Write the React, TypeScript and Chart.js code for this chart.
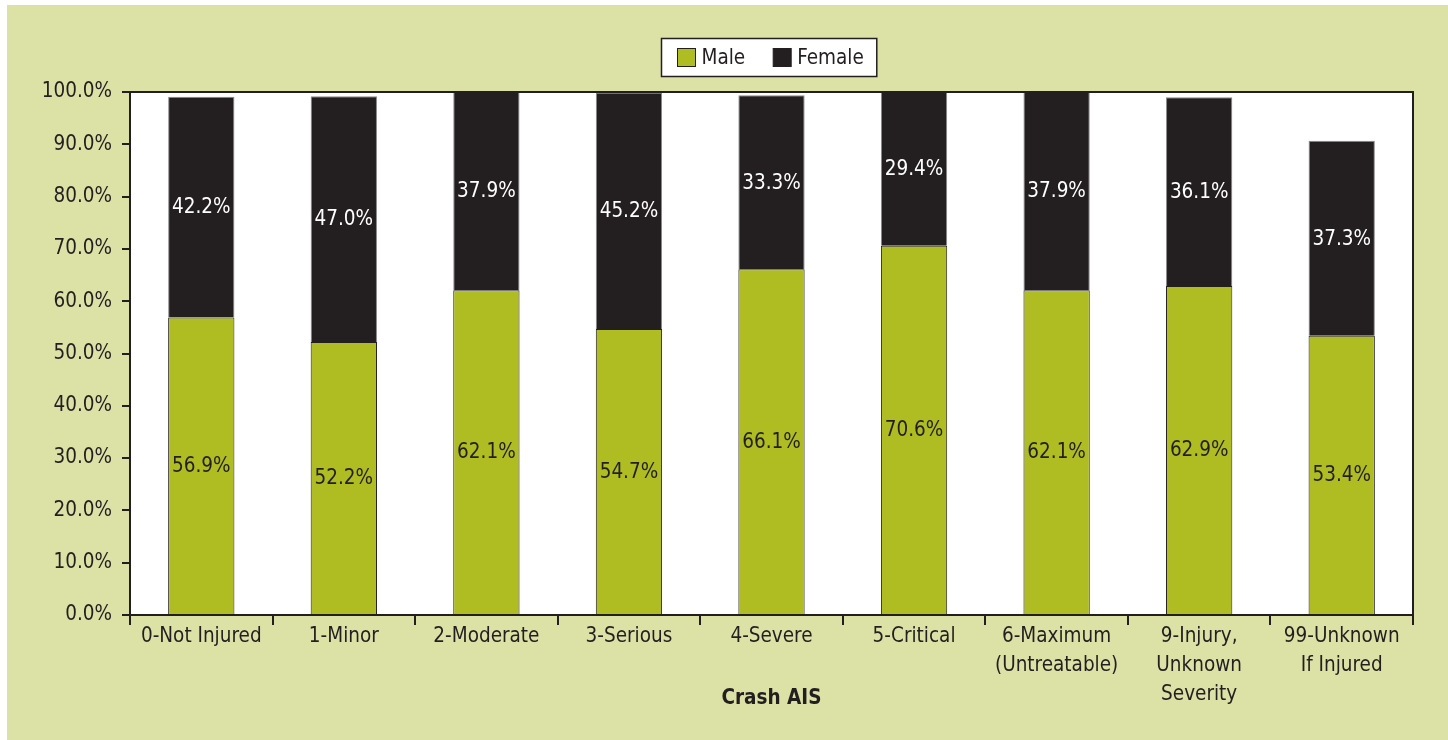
import React, { useEffect, useRef } from "react";
import { Chart, registerables } from "chart.js";

Chart.register(...registerables);

const categories: (string | string[])[] = [
  "0-Not Injured",
  "1-Minor",
  "2-Moderate",
  "3-Serious",
  "4-Severe",
  "5-Critical",
  ["6-Maximum", "(Untreatable)"],
  ["9-Injury,", "Unknown", "Severity"],
  ["99-Unknown", "If Injured"],
];
const maleValues = [56.9, 52.2, 62.1, 54.7, 66.1, 70.6, 62.1, 62.9, 53.4];
const femaleValues = [42.2, 47.0, 37.9, 45.2, 33.3, 29.4, 37.9, 36.1, 37.3];
const yTicks = [0, 10, 20, 30, 40, 50, 60, 70, 80, 90, 100];

const PANEL = "#dce1a6";
const MALE = "#afbd22";
const FEMALE = "#231f20";
const INK = "#231f20";
const FONT = "'DejaVu Sans Condensed', 'Liberation Sans Narrow', Arial, sans-serif";
const FS = 20.5;

const bgPlugin = {
  id: "bgPlugin",
  beforeDraw(chart: any) {
    const { ctx, chartArea } = chart;
    ctx.save();
    ctx.fillStyle = PANEL;
    ctx.fillRect(0, 0, chart.width, chart.height);
    ctx.fillStyle = "#ffffff";
    ctx.fillRect(chartArea.left, chartArea.top, chartArea.right - chartArea.left, chartArea.bottom - chartArea.top);
    ctx.restore();
  },
  afterDraw(chart: any) {
    const { ctx, chartArea } = chart;
    ctx.save();
    ctx.strokeStyle = INK;
    ctx.lineWidth = 2;
    ctx.beginPath();
    ctx.moveTo(chartArea.left, chartArea.top);
    ctx.lineTo(chartArea.right, chartArea.top);
    ctx.lineTo(chartArea.right, chartArea.bottom);
    ctx.stroke();

    // legend
    ctx.font = `${FS}px ${FONT}`;
    const ds = chart.data.datasets;
    const widths = ds.map((d: any) => ctx.measureText(d.label).width);
    const padL = 16, sw = 18, gap = 6, itemGap = 28, padR = 13;
    const total = padL + sw + gap + widths[0] + itemGap + sw + gap + widths[1] + padR;
    const cx = (chartArea.left + chartArea.right) / 2 - 3;
    const left = Math.round(cx - total / 2) + 0.5;
    const top = 33.5;
    const h = 38;
    ctx.fillStyle = "#ffffff";
    ctx.fillRect(left, top, total, h);
    ctx.lineWidth = 1.5;
    ctx.strokeStyle = INK;
    ctx.strokeRect(left, top, total, h);
    let x = left + padL;
    const cy = top + h / 2;
    ds.forEach((d: any, i: number) => {
      ctx.fillStyle = d.backgroundColor;
      ctx.fillRect(x, cy - sw / 2, sw, sw);
      ctx.lineWidth = 1;
      ctx.strokeStyle = INK;
      ctx.strokeRect(x, cy - sw / 2, sw, sw);
      x += sw + gap;
      ctx.fillStyle = INK;
      ctx.textAlign = "left";
      ctx.textBaseline = "middle";
      ctx.fillText(d.label, x, cy + 1);
      x += widths[i] + itemGap;
    });
    ctx.restore();
  },
};

const labelPlugin = {
  id: "labelPlugin",
  afterDatasetsDraw(chart: any) {
    const { ctx } = chart;
    ctx.save();
    ctx.font = `${FS}px ${FONT}`;
    ctx.textAlign = "center";
    ctx.textBaseline = "middle";
    chart.data.datasets.forEach((d: any, di: number) => {
      const meta = chart.getDatasetMeta(di);
      meta.data.forEach((el: any, i: number) => {
        const v = d.data[i];
        ctx.fillStyle = di === 0 ? INK : "#ffffff";
        ctx.fillText(v.toFixed(1) + "%", el.x, (el.y + el.base) / 2 + 1);
      });
    });
    ctx.restore();
  },
};

export default function App() {
  const ref = useRef<HTMLCanvasElement | null>(null);
  useEffect(() => {
    document.body.style.margin = "0";
    const canvas = ref.current!;
    const chart = new Chart(canvas, {
      type: "bar",
      data: {
        labels: categories,
        datasets: [
          {
            label: "Male",
            data: maleValues,
            backgroundColor: MALE,
            borderColor: INK,
            borderWidth: 1,
            barPercentage: 0.465,
            categoryPercentage: 1,
          },
          {
            label: "Female",
            data: femaleValues,
            backgroundColor: FEMALE,
            borderColor: "#8a8a8a",
            borderWidth: 1,
            barPercentage: 0.465,
            categoryPercentage: 1,
          },
        ],
      },
      options: {
        responsive: false,
        animation: false,
        devicePixelRatio: 1,
        layout: { padding: { top: 87, right: 35, bottom: 0, left: 0 } },
        plugins: {
          legend: { display: false },
          tooltip: { enabled: false },
        },
        scales: {
          x: {
            stacked: true,
            grid: {
              display: true,
              offset: true,
              drawOnChartArea: false,
              drawTicks: true,
              tickLength: 10,
              color: INK,
              lineWidth: 2,
            },
            border: { display: true, color: INK, width: 2 },
            ticks: {
              color: INK,
              font: { family: FONT, size: FS, lineHeight: 29 / FS },
              padding: -3,
              maxRotation: 0,
              autoSkip: false,
            },
            title: {
              display: true,
              text: "Crash AIS",
              color: INK,
              font: { family: FONT, size: FS, weight: "bold", lineHeight: 1.2 },
              padding: { top: 0, bottom: 29 },
            },
            afterFit: (s: any) => {
              s.height = 125;
            },
          },
          y: {
            stacked: true,
            min: 0,
            max: 100,
            afterBuildTicks: (s: any) => {
              s.ticks = yTicks.map((v) => ({ value: v }));
            },
            grid: {
              display: true,
              drawOnChartArea: false,
              drawTicks: true,
              tickLength: 8,
              color: INK,
              lineWidth: 2,
            },
            border: { display: true, color: INK, width: 2 },
            ticks: {
              color: INK,
              font: { family: FONT, size: FS },
              padding: 10,
              callback: (v: any) => Number(v).toFixed(1) + "%",
            },
            afterFit: (s: any) => {
              s.width = 123;
            },
          },
        },
      },
      plugins: [bgPlugin, labelPlugin],
    } as any);
    return () => chart.destroy();
  }, []);
  return (
    <div style={{ width: 1448, height: 740, background: "#ffffff", position: "relative" }}>
      <canvas
        ref={ref}
        width={1441}
        height={735}
        style={{ position: "absolute", left: 7, top: 5, width: 1441, height: 735 }}
      />
    </div>
  );
}
